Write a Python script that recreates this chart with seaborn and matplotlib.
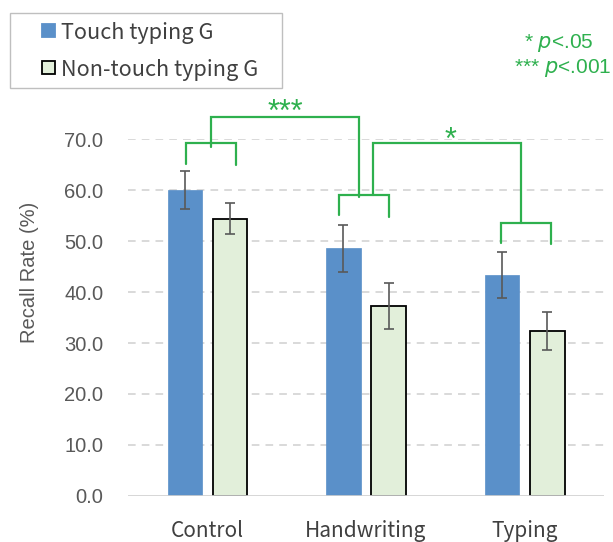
import matplotlib
matplotlib.use("Agg")
import matplotlib.pyplot as plt
from matplotlib.patches import Rectangle
import seaborn as sns
import pandas as pd

# Recall rate per study condition and typing group
conditions = ["Control", "Handwriting", "Typing"]
groups = ["Touch typing G", "Non-touch typing G"]
touch_mean = [60.0, 48.6, 43.3]
touch_err = [3.8, 4.6, 4.5]
nontouch_mean = [54.4, 37.3, 32.4]
nontouch_err = [3.0, 4.5, 3.7]
y_ticks = [0, 10, 20, 30, 40, 50, 60, 70]

df = pd.DataFrame({
    "condition": conditions * 2,
    "group": [groups[0]] * 3 + [groups[1]] * 3,
    "rate": touch_mean + nontouch_mean,
})
errors = {groups[0]: touch_err, groups[1]: nontouch_err}

BLUE = "#5a90c9"
PALE = "#e2efda"
GREEN = "#2eb04e"
GREY = "#595959"
LATIN = ["Liberation Sans", "DejaVu Sans"]
GOTHIC = ["Noto Sans CJK JP", "DejaVu Sans"]

sns.set_theme(style="white")
plt.rcParams["font.family"] = LATIN

W, H = 613, 542
fig = plt.figure(figsize=(W / 100, H / 100), dpi=100)
ax = fig.add_axes([0.2092, 0.0849, 0.7758, 0.6586])

sns.barplot(data=df, x="condition", y="rate", hue="group", order=conditions,
            hue_order=groups, palette=[BLUE, PALE], saturation=1,
            width=0.57, gap=0.23, errorbar=None, legend=False, ax=ax,
            zorder=3)

# bar edges and error bars, one container per group
for cont, g in zip(ax.containers, groups):
    for bar, err in zip(cont, errors[g]):
        if g == groups[1]:
            bar.set_edgecolor("black")
            bar.set_linewidth(1.3)
        else:
            bar.set_edgecolor(BLUE)
            bar.set_linewidth(0.5)
        cx = bar.get_x() + bar.get_width() / 2
        ax.errorbar(cx, bar.get_height(), yerr=err, color=GREY, lw=1.2,
                    capsize=3.4, capthick=1.2, zorder=4)

ax.set_ylim(0, 70)
ax.set_xlim(-0.5, 2.5)
ax.set_yticks(y_ticks)
ax.set_yticklabels([f"{v:.1f}" for v in y_ticks], color=GREY, fontsize=14.5)
ax.set_xticks(range(len(conditions)))
ax.set_xticklabels(conditions, color="#404040", fontsize=15, family=GOTHIC)
ax.tick_params(axis="x", length=0, pad=17)
ax.tick_params(axis="y", length=0, pad=18)
ax.set_xlabel("")
ax.set_ylabel("Recall Rate (%)", color=GREY, fontsize=14.5)
ax.yaxis.set_label_coords(-0.188, 0.627)
for s in ax.spines.values():
    s.set_visible(False)
for v in y_ticks[1:]:
    ax.axhline(v, color="#d0d0d0", lw=1.1, ls=(0, (5, 4)), zorder=0)
ax.axhline(0, color="#d0d0d0", lw=1.2, zorder=5)

# significance brackets
def seg(xs, ys):
    ax.plot(xs, ys, color=GREEN, lw=1.6, clip_on=False, zorder=6,
            solid_joinstyle="miter")

seg([-0.134, -0.134, 0.182, 0.182], [65.2, 69.16, 69.16, 64.9])
seg([0.022, 0.022, 0.958, 0.958], [68.5, 74.25, 74.25, 58.6])
seg([0.828, 0.828, 1.143, 1.143], [55.1, 58.96, 58.96, 54.8])
seg([1.046, 1.046, 1.980, 1.980], [58.96, 69.16, 69.16, 53.6])
seg([1.850, 1.850, 2.165, 2.165], [49.7, 53.6, 53.6, 49.4])
ax.text(0.489, 73.5, "***", color=GREEN, fontsize=22, ha="center",
        va="baseline", clip_on=False)
ax.text(1.536, 68.0, "*", color=GREEN, fontsize=22, ha="center",
        va="baseline", clip_on=False)

# significance key
fig.text(594 / W, 1 - 43 / H, "* $\\it{p}$<.05", color=GREEN, fontsize=15,
         ha="right", va="center")
fig.text(611 / W, 1 - 68 / H, "*** $\\it{p}$<.001", color=GREEN,
         fontsize=15, ha="right", va="center")

# group key, laid out in figure pixels
def fx(px):
    return px / W

def fy(py):
    return 1 - py / H

fig.patches.append(Rectangle((fx(10), fy(88)), fx(272), 75 / H,
                             transform=fig.transFigure, facecolor="white",
                             edgecolor="#bfbfbf", lw=1.0, zorder=10))
key_fill = [BLUE, PALE]
key_edge = [BLUE, "black"]
key_y = [30.5, 67.5]
for label, fc, ec, yc in zip(groups, key_fill, key_edge, key_y):
    fig.patches.append(Rectangle((fx(42), fy(yc + 6.5)), fx(13), 13 / H,
                                 transform=fig.transFigure, facecolor=fc,
                                 edgecolor=ec, lw=1.3, zorder=11))
    fig.text(fx(61), fy(yc), label, color="#404040", fontsize=15.6,
             family=GOTHIC, ha="left", va="center_baseline", zorder=12)

fig.savefig("out.png", dpi=100)
